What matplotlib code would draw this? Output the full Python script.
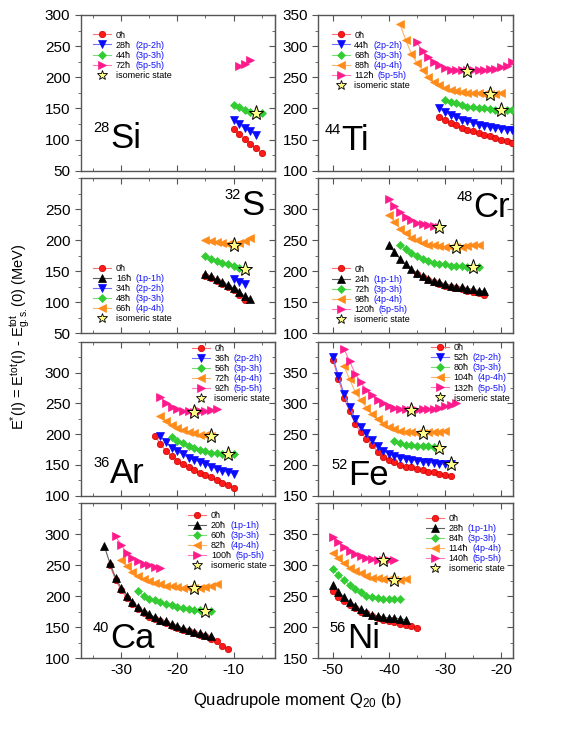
import numpy as np
import matplotlib
matplotlib.use("Agg")
import matplotlib.pyplot as plt
from matplotlib.lines import Line2D
from matplotlib.ticker import MultipleLocator

plt.rcParams["font.family"] = ["Liberation Sans", "DejaVu Sans"]
plt.rcParams["mathtext.fontset"] = "custom"
plt.rcParams["mathtext.rm"] = "Liberation Sans"
plt.rcParams["mathtext.it"] = "Liberation Sans:italic"
plt.rcParams["axes.unicode_minus"] = False

HB = "\u0127"

# ---- 28Si
si28_q_0 = [-10, -9, -8, -7, -6, -5]
si28_e_0 = [117, 109, 101, 93, 86, 79]
si28_q_2 = [-10, -9, -8, -7, -6]
si28_e_2 = [132, 125, 118, 113, 108]
si28_q_3 = [-10, -9, -8, -7, -6, -5]
si28_e_3 = [156, 152, 147, 144, 143, 143]
si28_q_5 = [-9, -8, -7]
si28_e_5 = [218, 222, 227]
si28_iso_q = [-6]
si28_iso_e = [143]

# ---- 44Ti
ti44_q_0 = [-31, -30, -29, -28, -27, -26, -25, -24, -23, -22, -21, -20, -19, -18]
ti44_e_0 = [186, 181, 176, 173, 169, 166, 163, 160, 158, 155, 152, 150, 147, 144]
ti44_q_2 = [-31, -30, -29, -28, -27, -26, -25, -24, -23, -22, -21, -20, -19, -18]
ti44_e_2 = [200, 194, 189, 186, 182, 179, 177, 174, 172, 170, 168, 167, 166, 166]
ti44_q_3 = [-30, -29, -28, -27, -26, -25, -24, -23, -22, -21, -20, -19, -18]
ti44_e_3 = [214, 210, 208, 206, 203, 202, 201, 200, 199, 198, 198, 197, 197]
ti44_q_4 = [-38, -37, -36, -35, -34, -33, -32, -31, -30, -29, -28, -27, -26,
            -25, -24, -23, -22, -21, -20]
ti44_e_4 = [335, 310, 288, 273, 261, 250, 242, 237, 232, 230, 228, 226, 225,
            225, 224, 223, 223, 223, 224]
ti44_q_5 = [-35, -34, -33, -32, -31, -30, -29, -28, -27, -26, -25, -24, -23,
            -22, -21, -20, -19, -18]
ti44_e_5 = [306, 292, 282, 274, 269, 265, 262, 261, 261, 261, 261, 261, 262,
            263, 264, 266, 268, 274]
ti44_iso_q = [-26, -22, -20]
ti44_iso_e = [260, 223, 197]

# ---- 32S
s32_q_0 = [-15, -14, -13, -12, -11, -10, -9, -8]
s32_e_0 = [143, 139, 134, 130, 125, 120, 112, 103]
s32_q_1 = [-15, -14, -13, -12, -11, -10, -9, -8, -7]
s32_e_1 = [146, 142, 137, 133, 128, 123, 117, 110, 105]
s32_q_2 = [-10, -9, -8]
s32_e_2 = [137, 133, 129]
s32_q_3 = [-15, -14, -13, -12, -11, -10, -9, -8]
s32_e_3 = [174, 170, 166, 163, 161, 158, 156, 154]
s32_q_4 = [-15, -14, -13, -12, -11, -10, -9, -8, -7]
s32_e_4 = [201, 199, 197, 195, 194, 193, 195, 199, 204]
s32_iso_q = [-10, -8]
s32_iso_e = [193, 154]

# ---- 48Cr
cr48_q_0 = [-35, -34, -33, -32, -31, -30, -29, -28, -27, -26, -25, -24, -23]
cr48_e_0 = [196, 191, 186, 183, 180, 177, 175, 173, 171, 169, 167, 165, 161]
cr48_q_1 = [-40, -39, -38, -37, -36, -35, -34, -33, -32, -31, -30, -29, -28,
            -27, -26, -25, -24, -23]
cr48_e_1 = [243, 231, 220, 211, 204, 197, 192, 187, 185, 182, 180, 177, 175,
            174, 172, 171, 169, 168]
cr48_q_3 = [-38, -37, -36, -35, -34, -33, -32, -31, -30, -29, -28, -27, -26,
            -25, -24]
cr48_e_3 = [243, 236, 230, 224, 220, 217, 214, 212, 211, 209, 209, 208, 207,
            207, 207]
cr48_q_4 = [-40, -39, -38, -37, -36, -35, -34, -33, -32, -31, -30, -29, -28,
            -27, -26, -25, -24]
cr48_e_4 = [291, 279, 269, 261, 254, 250, 246, 243, 242, 240, 239, 239, 239,
            239, 240, 242, 242]
cr48_q_5 = [-40, -39, -38, -37, -36, -35, -34, -33, -32, -31]
cr48_e_5 = [317, 305, 296, 288, 282, 278, 276, 274, 273, 272]
cr48_iso_q = [-31, -28, -25]
cr48_iso_e = [272, 239, 207]

# ---- 36Ar
ar36_q_0 = [-24, -23, -22, -21, -20, -19, -18, -17, -16, -15, -14, -13, -12,
            -11, -10]
ar36_e_0 = [197, 184, 172, 164, 157, 151, 146, 141, 137, 133, 130, 125, 121,
            118, 112]
ar36_q_2 = [-23, -22, -21, -20, -19, -18, -17, -16, -15, -14, -13, -12, -11, -10]
ar36_e_2 = [197, 187, 178, 172, 167, 162, 158, 155, 151, 147, 144, 140, 138, 136]
ar36_q_3 = [-21, -20, -19, -18, -17, -16, -15, -14, -13, -12, -11, -10]
ar36_e_3 = [195, 189, 185, 181, 177, 175, 172, 170, 169, 168, 167, 168]
ar36_q_4 = [-23, -22, -21, -20, -19, -18, -17, -16, -15, -14]
ar36_e_4 = [229, 221, 214, 210, 206, 203, 201, 199, 198, 197]
ar36_q_5 = [-23, -22, -21, -20, -19, -18, -17, -16, -15, -14, -13]
ar36_e_5 = [260, 251, 244, 241, 238, 237, 236, 237, 238, 239, 241]
ar36_iso_q = [-17, -14, -11]
ar36_iso_e = [236, 197, 167]

# ---- 52Fe
fe52_q_0 = [-50, -49, -48, -47, -46, -45, -44, -43, -42, -41, -40, -39, -38,
            -37, -36, -35, -34, -33, -32, -31, -30, -29]
fe52_e_0 = [370, 340, 308, 287, 266, 253, 242, 233, 221, 213, 208, 204, 200,
            197, 196, 193, 191, 189, 188, 186, 184, 182]
fe52_q_2 = [-50, -49, -48, -47, -46, -45, -44, -43, -42, -41, -40, -39, -38,
            -37, -36, -35, -34, -33, -32, -31, -30, -29]
fe52_e_2 = [375, 344, 315, 294, 274, 262, 251, 240, 231, 223, 218, 215, 212,
            210, 208, 207, 205, 204, 203, 202, 201, 201]
fe52_q_3 = [-39, -38, -37, -36, -35, -34, -33, -32, -31]
fe52_e_3 = [238, 235, 233, 232, 231, 230, 230, 229, 228]
fe52_q_4 = [-48, -47, -46, -45, -44, -43, -42, -41, -40, -39, -38, -37, -36,
            -35, -34, -33, -32, -31, -30]
fe52_e_4 = [360, 339, 318, 305, 293, 282, 274, 267, 262, 258, 255, 254, 253,
            252, 252, 253, 253, 254, 255]
fe52_q_5 = [-48, -47, -46, -45, -44, -43, -42, -41, -40, -39, -38, -37, -36,
            -35, -34, -33, -32, -31, -30, -29, -28]
fe52_e_5 = [388, 368, 348, 334, 322, 313, 305, 300, 295, 292, 290, 290, 289,
            289, 290, 290, 291, 293, 295, 298, 301]
fe52_iso_q = [-36, -34, -31, -29]
fe52_iso_e = [289, 252, 228, 201]

# ---- 40Ca
ca40_q_0 = [-32, -31, -30, -29, -28, -27, -26, -25, -24, -23, -22, -21, -20,
            -19, -18, -17, -16, -15, -14, -13, -12, -11]
ca40_e_0 = [250, 226, 210, 197, 187, 179, 173, 167, 163, 159, 156, 152, 149,
            146, 143, 140, 137, 135, 131, 127, 120, 115]
ca40_q_1 = [-33, -32, -31, -30, -29, -28, -27, -26, -25, -24, -23, -22, -21,
            -20, -19, -18, -17, -16, -15, -14]
ca40_e_1 = [281, 253, 230, 213, 201, 191, 183, 176, 171, 166, 162, 159, 155,
            152, 148, 146, 142, 140, 137, 135]
ca40_q_3 = [-27, -26, -25, -24, -23, -22, -21, -20, -19, -18, -17, -16, -15, -14]
ca40_e_3 = [208, 201, 196, 193, 190, 187, 186, 183, 181, 179, 178, 178, 176, 176]
ca40_q_4 = [-30, -29, -28, -27, -26, -25, -24, -23, -22, -21, -20, -19, -18,
            -17, -16, -15, -14, -13]
ca40_e_4 = [259, 248, 239, 232, 227, 224, 221, 219, 217, 216, 214, 213, 213,
            213, 213, 214, 217, 220]
ca40_q_5 = [-31, -30, -29, -28, -27, -26, -25, -24, -23]
ca40_e_5 = [297, 283, 270, 262, 256, 252, 250, 247, 246]
ca40_iso_q = [-17, -15]
ca40_iso_e = [213, 176]

# ---- 56Ni
ni56_q_0 = [-50, -49, -48, -47, -46, -45, -44, -43, -42, -41, -40, -39, -38,
            -37, -36, -35]
ni56_e_0 = [259, 249, 242, 235, 231, 225, 222, 218, 215, 212, 210, 208, 205,
            204, 202, 199]
ni56_q_1 = [-50, -49, -48, -47, -46, -45, -44, -43, -42, -41, -40, -39, -38, -37]
ni56_e_1 = [268, 257, 248, 241, 234, 229, 224, 220, 218, 216, 215, 215, 213, 212]
ni56_q_3 = [-50, -49, -48, -47, -46, -45, -44, -43, -42, -41, -40, -39, -38]
ni56_e_3 = [294, 284, 276, 268, 261, 256, 251, 249, 247, 246, 245, 245, 245]
ni56_q_4 = [-50, -49, -48, -47, -46, -45, -44, -43, -42, -41, -40, -39, -38, -37]
ni56_e_4 = [320, 311, 303, 296, 291, 287, 283, 280, 279, 277, 277, 276, 276, 277]
ni56_q_5 = [-50, -49, -48, -47, -46, -45, -44, -43, -42, -41, -40, -39]
ni56_e_5 = [346, 338, 329, 323, 318, 315, 311, 310, 308, 308, 308, 308]
ni56_iso_q = [-41, -39]
ni56_iso_e = [308, 276]

# marker style per np-nh configuration
STYLE = {
    0: dict(marker="o", mfc="#ff1a1a", mec="#c80000", ms=4.6, color="#ff7070"),
    1: dict(marker="^", mfc="black", mec="black", ms=5.3, color="#606060"),
    2: dict(marker="v", mfc="#0a0aff", mec="#0a0aff", ms=5.3, color="#7070ff"),
    3: dict(marker="D", mfc="#33cc33", mec="#33cc33", ms=4.0, color="#77dd77"),
    4: dict(marker="<", mfc="#ff8c1a", mec="#ff8c1a", ms=5.3, color="#ffb366"),
    5: dict(marker=">", mfc="#ff1a8c", mec="#ff1a8c", ms=5.3, color="#ff77b8"),
}
CONF = {0: "", 1: "(1p-1h)", 2: "(2p-2h)", 3: "(3p-3h)", 4: "(4p-4h)", 5: "(5p-5h)"}

LEFT_X = (-37.2, -2.6)
RIGHT_X = (-52.6, -17.9)

panels = [
    dict(row=0, col=0, el="Si", A="28", ylim=(50, 300), name_xy=(0.151, 0.146),
         leg_xy=(0.065, 0.9),
         series=[(0, si28_q_0, si28_e_0, "0"), (2, si28_q_2, si28_e_2, "28"),
                 (3, si28_q_3, si28_e_3, "44"), (5, si28_q_5, si28_e_5, "72")],
         iso=(si28_iso_q, si28_iso_e)),
    dict(row=0, col=1, el="Ti", A="44", ylim=(100, 350), name_xy=(0.12, 0.133),
         leg_xy=(0.069, 0.9),
         series=[(0, ti44_q_0, ti44_e_0, "0"), (2, ti44_q_2, ti44_e_2, "44"),
                 (3, ti44_q_3, ti44_e_3, "68"), (4, ti44_q_4, ti44_e_4, "88"),
                 (5, ti44_q_5, ti44_e_5, "112")],
         iso=(ti44_iso_q, ti44_iso_e)),
    dict(row=1, col=0, el="S", A="32", ylim=(50, 300), name_xy=(0.829, 0.763),
         leg_xy=(0.065, 0.448),
         series=[(0, s32_q_0, s32_e_0, "0"), (1, s32_q_1, s32_e_1, "16"),
                 (2, s32_q_2, s32_e_2, "34"), (3, s32_q_3, s32_e_3, "48"),
                 (4, s32_q_4, s32_e_4, "66")],
         iso=(s32_iso_q, s32_iso_e)),
    dict(row=1, col=1, el="Cr", A="48", ylim=(100, 350), name_xy=(0.797, 0.752),
         leg_xy=(0.069, 0.443),
         series=[(0, cr48_q_0, cr48_e_0, "0"), (1, cr48_q_1, cr48_e_1, "24"),
                 (3, cr48_q_3, cr48_e_3, "72"), (4, cr48_q_4, cr48_e_4, "98"),
                 (5, cr48_q_5, cr48_e_5, "120")],
         iso=(cr48_iso_q, cr48_iso_e)),
    dict(row=2, col=0, el="Ar", A="36", ylim=(100, 350), name_xy=(0.151, 0.08),
         leg_xy=(0.571, 0.985),
         series=[(0, ar36_q_0, ar36_e_0, "0"), (2, ar36_q_2, ar36_e_2, "36"),
                 (3, ar36_q_3, ar36_e_3, "56"), (4, ar36_q_4, ar36_e_4, "72"),
                 (5, ar36_q_5, ar36_e_5, "92")],
         iso=(ar36_iso_q, ar36_iso_e)),
    dict(row=2, col=1, el="Fe", A="52", ylim=(150, 400), name_xy=(0.154, 0.07),
         leg_xy=(0.58, 0.99),
         series=[(0, fe52_q_0, fe52_e_0, "0"), (2, fe52_q_2, fe52_e_2, "52"),
                 (3, fe52_q_3, fe52_e_3, "80"), (4, fe52_q_4, fe52_e_4, "104"),
                 (5, fe52_q_5, fe52_e_5, "132")],
         iso=(fe52_iso_q, fe52_iso_e)),
    dict(row=3, col=0, el="Ca", A="40", ylim=(100, 350), name_xy=(0.151, 0.063),
         leg_xy=(0.554, 0.95),
         series=[(0, ca40_q_0, ca40_e_0, "0"), (1, ca40_q_1, ca40_e_1, "20"),
                 (3, ca40_q_3, ca40_e_3, "60"), (4, ca40_q_4, ca40_e_4, "82"),
                 (5, ca40_q_5, ca40_e_5, "100")],
         iso=(ca40_iso_q, ca40_iso_e)),
    dict(row=3, col=1, el="Ni", A="56", ylim=(150, 400), name_xy=(0.146, 0.063),
         leg_xy=(0.554, 0.932),
         series=[(0, ni56_q_0, ni56_e_0, "0"), (1, ni56_q_1, ni56_e_1, "28"),
                 (3, ni56_q_3, ni56_e_3, "84"), (4, ni56_q_4, ni56_e_4, "114"),
                 (5, ni56_q_5, ni56_e_5, "140")],
         iso=(ni56_iso_q, ni56_iso_e)),
]

W, H = 581, 752
col_x = [80.7, 318.3]
col_w = 194.4
row_y = [(15.0, 170.7), (178.3, 333.3), (341.7, 495.7), (503.3, 658.0)]
frame = "#555555"

fig = plt.figure(figsize=(W / 100, H / 100), dpi=100)

for p in panels:
    top, bot = row_y[p["row"]]
    ax = fig.add_axes([col_x[p["col"]] / W, 1 - bot / H, col_w / W, (bot - top) / H])
    handles, labels, confs = [], [], []
    for k, q, e, spin in p["series"]:
        st = STYLE[k]
        ln, = ax.plot(q, e, lw=0.8, marker=st["marker"], ms=st["ms"],
                      mfc=st["mfc"], mec=st["mec"], mew=0.5, color=st["color"],
                      zorder=3)
        handles.append(ln)
        labels.append(spin + HB)
        confs.append(CONF[k])
    ax.plot(p["iso"][0], p["iso"][1], ls="none", marker="*", ms=11,
            mfc="#ffff88", mec="black", mew=0.7, zorder=4)
    handles.append(Line2D([], [], ls="none", marker="*", ms=7, mfc="#ffff88",
                          mec="black", mew=0.6))
    labels.append("isomeric state")
    confs.append("")

    ax.set_xlim(LEFT_X if p["col"] == 0 else RIGHT_X)
    y0, y1 = p["ylim"]
    ax.set_ylim(y0, y1)
    ax.set_yticks(np.arange(y0, y1 + (1 if p["row"] == 0 else -1), 50))
    ax.yaxis.set_minor_locator(MultipleLocator(25))
    ax.xaxis.set_major_locator(MultipleLocator(10))
    ax.xaxis.set_minor_locator(MultipleLocator(5))
    ax.tick_params(axis="x", which="both", direction="in", top=True,
                   bottom=True, labelbottom=(p["row"] == 3), labelsize=11,
                   color=frame)
    ax.tick_params(axis="y", which="both", direction="out", labelsize=11,
                   color=frame)
    ax.tick_params(which="major", length=4)
    ax.tick_params(which="minor", length=2)
    for s in ax.spines.values():
        s.set_color(frame)
        s.set_linewidth(1.0)
    sec = ax.secondary_yaxis("right")
    sec.yaxis.set_major_locator(MultipleLocator(50))
    sec.yaxis.set_minor_locator(MultipleLocator(25))
    sec.tick_params(which="both", direction="in", labelright=False, color=frame)
    sec.tick_params(which="major", length=4)
    sec.tick_params(which="minor", length=2)
    sec.spines["right"].set_color(frame)

    leg = ax.legend(handles, labels, loc="upper left", bbox_to_anchor=p["leg_xy"],
                    frameon=False, fontsize=6.5, handlelength=2.0,
                    handletextpad=0.5, labelspacing=0.12, borderpad=0,
                    borderaxespad=0)
    for t, c in zip(leg.get_texts(), confs):
        if c:
            ax.annotate(c, xy=(1, 0), xycoords=t, xytext=(3, 0),
                        textcoords="offset points", fontsize=6.5, color="#1010ff",
                        ha="left", va="bottom", zorder=6)

    nx, ny = p["name_xy"]
    ax.text(nx, ny, p["el"], transform=ax.transAxes, fontsize=25,
            ha="left", va="baseline")
    ax.annotate(p["A"], xy=(nx, ny), xycoords="axes fraction", xytext=(-0.5, 11.5),
                textcoords="offset points", fontsize=10.5, ha="right",
                va="baseline")

fig.text(0.036, 1 - 337 / H,
         r"E$^{*}$(I) = E$^{\rm tot}$(I) - E$^{\rm tot}_{\rm g.s.}$(0) (MeV)",
         rotation=90, ha="center", va="center", fontsize=10.5)
fig.text(297 / W, 1 - 700 / H, r"Quadrupole moment Q$_{20}$ (b)",
         ha="center", va="center", fontsize=12)

fig.canvas.draw()
fig.savefig("out.png", dpi=100)
